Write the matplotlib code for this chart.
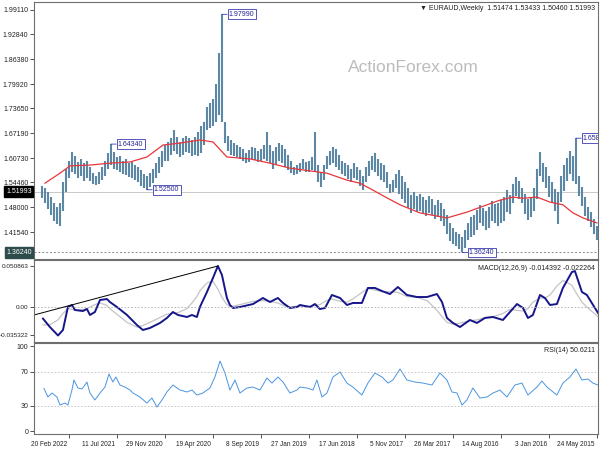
# EURAUD weekly (mirrored layout: newest bar on the left), MA + MACD + RSI panels.
import numpy as np
import matplotlib
matplotlib.use("Agg")
import matplotlib.pyplot as plt
from matplotlib.transforms import ScaledTranslation, blended_transform_factory

plt.rcParams['font.family'] = ['Liberation Sans', 'DejaVu Sans']
plt.rcParams['font.size'] = 5

# x values are weeks after 24 May 2015; bars are two weeks apart
bar_high = [1.432, 1.448, 1.468, 1.480, 1.505, 1.532, 1.560, 1.6587, 1.612, 1.625,
            1.608, 1.590, 1.560, 1.518, 1.528, 1.545, 1.560, 1.585, 1.594, 1.623,
            1.580, 1.530, 1.505, 1.500, 1.515, 1.530, 1.548, 1.558, 1.540, 1.512,
            1.524, 1.505, 1.498, 1.490, 1.488, 1.495, 1.480, 1.470, 1.478, 1.485,
            1.472, 1.460, 1.455, 1.440, 1.420, 1.402, 1.410, 1.415, 1.425, 1.438,
            1.460, 1.475, 1.490, 1.498, 1.485, 1.500, 1.510, 1.498, 1.505, 1.515,
            1.508, 1.520, 1.512, 1.530, 1.545, 1.560, 1.576, 1.565, 1.550, 1.540,
            1.570, 1.590, 1.594, 1.605, 1.620, 1.612, 1.600, 1.585, 1.560, 1.575,
            1.585, 1.594, 1.580, 1.590, 1.594, 1.600, 1.615, 1.630, 1.636, 1.625,
            1.612, 1.590, 1.570, 1.590, 1.675, 1.610, 1.600, 1.598, 1.605, 1.595,
            1.590, 1.585, 1.600, 1.615, 1.630, 1.640, 1.646, 1.635, 1.625, 1.640,
            1.675, 1.640, 1.630, 1.625, 1.632, 1.636, 1.628, 1.620, 1.630, 1.636,
            1.640, 1.645, 1.655, 1.665, 1.700, 1.9799, 1.880, 1.800, 1.760, 1.750,
            1.740, 1.700, 1.690, 1.675, 1.662, 1.655, 1.660, 1.665, 1.658, 1.650,
            1.662, 1.680, 1.660, 1.650, 1.640, 1.625, 1.610, 1.595, 1.580, 1.568,
            1.560, 1.565, 1.575, 1.585, 1.590, 1.598, 1.595, 1.605, 1.600, 1.612,
            1.610, 1.622, 1.6434, 1.620, 1.600, 1.585, 1.570, 1.560, 1.568, 1.585,
            1.600, 1.595, 1.605, 1.598, 1.612, 1.623, 1.600, 1.580, 1.545, 1.490,
            1.480, 1.490, 1.505, 1.520, 1.530, 1.5343]
bar_low = [1.396, 1.410, 1.428, 1.445, 1.458, 1.482, 1.510, 1.540, 1.548, 1.565,
           1.548, 1.522, 1.492, 1.436, 1.470, 1.490, 1.505, 1.530, 1.545, 1.560,
           1.500, 1.470, 1.455, 1.446, 1.462, 1.490, 1.500, 1.510, 1.490, 1.462,
           1.468, 1.445, 1.440, 1.432, 1.440, 1.445, 1.425, 1.421, 1.430, 1.440,
           1.420, 1.408, 1.402, 1.395, 1.375, 1.3624, 1.372, 1.380, 1.385, 1.392,
           1.410, 1.430, 1.445, 1.455, 1.450, 1.460, 1.465, 1.458, 1.462, 1.470,
           1.468, 1.475, 1.465, 1.478, 1.490, 1.500, 1.515, 1.530, 1.520, 1.516,
           1.530, 1.545, 1.550, 1.560, 1.570, 1.575, 1.560, 1.545, 1.524, 1.535,
           1.550, 1.555, 1.545, 1.552, 1.560, 1.565, 1.575, 1.585, 1.595, 1.590,
           1.580, 1.550, 1.532, 1.545, 1.570, 1.575, 1.570, 1.572, 1.578, 1.570,
           1.565, 1.562, 1.568, 1.575, 1.585, 1.595, 1.600, 1.590, 1.580, 1.595,
           1.600, 1.605, 1.600, 1.598, 1.602, 1.605, 1.598, 1.594, 1.600, 1.605,
           1.610, 1.612, 1.615, 1.625, 1.645, 1.700, 1.720, 1.700, 1.690, 1.685,
           1.680, 1.640, 1.620, 1.612, 1.615, 1.612, 1.620, 1.622, 1.615, 1.610,
           1.618, 1.625, 1.615, 1.600, 1.600, 1.585, 1.568, 1.555, 1.542, 1.532,
           1.525, 1.530, 1.535, 1.545, 1.550, 1.555, 1.558, 1.562, 1.565, 1.570,
           1.575, 1.580, 1.590, 1.578, 1.560, 1.550, 1.540, 1.537, 1.540, 1.548,
           1.555, 1.548, 1.560, 1.555, 1.565, 1.570, 1.555, 1.520, 1.470, 1.430,
           1.435, 1.445, 1.460, 1.475, 1.490, 1.5046]
bar_week = np.arange(len(bar_high)) * 2

ma_week = [0, 9.3, 16, 22.7, 31.3, 40, 49.3, 56, 64.7, 73.3, 86.7, 100, 118, 131.3,
           140, 149.3, 158, 166.7, 180, 191.3, 204.7, 218, 231.3, 246.7, 256, 264.7,
           278, 289.3, 300, 311.3, 324.7, 338, 351.3, 358, 368]
ma_val = [1.439, 1.452, 1.465, 1.486, 1.493, 1.506, 1.503, 1.506, 1.498, 1.486,
          1.467, 1.452, 1.465, 1.486, 1.504, 1.524, 1.542, 1.550, 1.568, 1.574,
          1.581, 1.594, 1.605, 1.610, 1.649, 1.654, 1.646, 1.641, 1.610, 1.597,
          1.594, 1.589, 1.587, 1.568, 1.542]

macd_week = [-0.7, 6.7, 10, 14.7, 16.7, 22.7, 26.7, 31.3, 34.7, 38,
             42.7, 46, 49.3, 53.3, 58, 62.7, 69.3, 74.7, 80, 84.7,
             91.3, 96, 100, 103.3, 106.7, 113.3, 120, 126.7, 132.7, 138,
             143.3, 148, 152.7, 156.7, 162.7, 166.7, 171.3, 176.7, 181.3, 184.7,
             188, 191.3, 198, 200, 204.7, 209.3, 212.7, 218, 222.7, 229.3,
             238, 242.7, 244.7, 246.7, 250, 252.7, 256, 260, 264.7, 266.7,
             270, 273.3, 279.3, 282.7, 286.7, 291.3, 298, 302.7, 306.7, 313.3,
             320, 324.7, 326.7, 331.3, 334.7, 338, 340, 342.7, 348, 350,
             352.7, 356, 359.3, 364.7, 369.3]
macd_main = [-0.0074, 0.0149, 0.0186, 0.0446, 0.0434, 0.0236, 0.0037, 0.0025, 0.0112, 0.0149,
             -0.0099, -0.0136, -0.0012, 0.0037, -0.0062, -0.0161, -0.0124, -0.0136, -0.0198, -0.0161,
             -0.0248, -0.0198, -0.0136, 0.0062, 0.0161, 0.0124, 0.0124, 0.0149, 0.0248, 0.0161,
             0.0198, 0.0236, 0.0236, 0.0050, 0.0050, 0.0025, 0.0112, 0.0149, -0.0012, -0.0025,
             0.0037, 0.0, 0.0025, 0.0, -0.0012, 0.0050, 0.0112, 0.0062, 0.0112, 0.0037,
             0.0, -0.0012, 0.0025, 0.0112, 0.0397, 0.050863, 0.0360, 0.0186, 0.0, -0.0124,
             -0.0099, -0.0124, -0.0099, -0.0062, -0.0136, -0.0198, -0.0260, -0.0285, -0.0223, -0.0099,
             0.0, 0.0062, 0.0099, 0.0087, -0.0062, -0.0099, -0.0025, -0.0050, -0.0037, 0.0025,
             0.0, -0.0285, -0.035322, -0.0248, -0.014392]
macd_signal = [-0.0120, 0.0000, 0.0060, 0.0200, 0.0270, 0.0330, 0.0260, 0.0150, 0.0110, 0.0110,
               0.0060, -0.0020, -0.0050, -0.0040, -0.0030, -0.0080, -0.0120, -0.0130, -0.0160, -0.0170,
               -0.0200, -0.0210, -0.0190, -0.0120, -0.0040, 0.0080, 0.0120, 0.0130, 0.0180, 0.0190,
               0.0190, 0.0210, 0.0230, 0.0180, 0.0100, 0.0060, 0.0070, 0.0100, 0.0070, 0.0030,
               0.0020, 0.0010, 0.0010, 0.0010, 0.0000, 0.0020, 0.0050, 0.0070, 0.0080, 0.0070,
               0.0030, 0.0010, 0.0010, 0.0030, 0.0120, 0.0220, 0.0320, 0.0300, 0.0200, 0.0130,
               0.0050, -0.0020, -0.0070, -0.0080, -0.0090, -0.0130, -0.0190, -0.0230, -0.0250, -0.0190,
               -0.0090, -0.0020, 0.0020, 0.0050, 0.0030, 0.0000, -0.0020, -0.0030, -0.0040, -0.0030,
               -0.0020, -0.0080, -0.0160, -0.0220, -0.022264]
trend_week = [375.3, 252.7]
trend_val = [-0.0099, 0.050863]

rsi_week = [-0.7, 2.7, 6, 10, 14, 18, 22.7, 26.7, 33.3, 36.7, 40, 46, 50, 54.7, 60,
            64.7, 69.3, 73.3, 78, 82.7, 86.7, 90, 93.3, 96.7, 100, 104.7, 110, 116,
            121.3, 126.7, 131.3, 136, 139.3, 143.3, 148, 152.7, 156.7, 162.7, 166.7,
            171.3, 176, 180, 183.3, 186.7, 189.3, 193.3, 198, 200, 204.7, 209.3, 212.7,
            216.7, 220, 224.7, 229.3, 233.3, 238, 241.3, 244.7, 248, 251.3, 254.7, 258,
            262.7, 266.7, 270, 273.3, 278, 282.7, 286.7, 290, 293.3, 296.7, 300, 304.7,
            309.3, 311.3, 314.7, 318, 320.7, 322.7, 325.3, 328, 331.3, 334.7, 338, 340,
            343.3, 346, 348.7, 350, 352.7, 354.7, 358, 360, 363.3, 366, 368.7]
rsi_val = [54.6, 56.9, 61.7, 60.5, 73.4, 64, 56.9, 42.8, 52.2, 59.3, 52.2, 42.8, 56.9, 54.6, 40.5,
           48.7, 45.2, 40.5, 39.3, 51.1, 37, 31.1, 45.2, 46.4, 60.5, 68.7, 54.6, 56.9,
           58.1, 60.5, 73.4, 60.5, 56.9, 64, 68.7, 56.9, 42.8, 52.2, 56.9,
           69.9, 64, 45.2, 40.5, 60.5, 48.7, 51.1, 52.2, 48.7, 45.2, 58.1, 64,
           56.9, 62.8, 48.7, 52.2, 51.1, 45.2, 60.5, 48.7, 68.7, 82.8, 64, 51.1,
           45.2, 42.8, 48.7, 46.4, 48.7, 54.6, 46.4, 37, 28.7, 39.3, 33.4, 40.5,
           45.2, 48.7, 52.2, 54.6, 64, 58.1, 67.5, 52.2, 45.2, 37, 45.2, 58.1,
           49.9, 51.1, 60.5, 48.7, 31.1, 33.4, 31.1, 40.5, 45.2, 40.5, 50.6]

price_ticks = [1.99110, 1.92840, 1.86380, 1.79920, 1.73650, 1.67190, 1.60730,
               1.54460, 1.48000, 1.41540]
date_ticks = [0, 32, 64, 96, 128, 160, 192, 224, 256, 288, 320, 352]
date_labels = ["24 May 2015", "3 Jan 2016", "14 Aug 2016", "26 Mar 2017", "5 Nov 2017",
               "17 Jun 2018", "27 Jan 2019", "8 Sep 2019", "19 Apr 2020", "29 Nov 2020",
               "11 Jul 2021", "20 Feb 2022"]
mark_week = [250, 324, 300, 90, 14]
mark_price = [1.97990, 1.64340, 1.52500, 1.36240, 1.65870]

BORDER = '#6e6e6e'
XL = (375.3, -0.7)

fig = plt.figure(figsize=(6, 4.5), dpi=100)
ax1 = fig.add_axes([34/600, 1 - 259/450, 564/600, 257/450])
ax2 = fig.add_axes([34/600, 1 - 342/450, 564/600, 82/450])
ax3 = fig.add_axes([34/600, 1 - 434/450, 564/600, 91/450])

for ax in (ax1, ax2, ax3):
    ax.set_xlim(*XL)
    for s in ax.spines.values():
        s.set_color(BORDER)
        s.set_linewidth(0.8)
    ax.tick_params(axis='y', direction='out', length=3, width=0.6, pad=1,
                   labelsize=5, color='#333333', labelcolor='#222222')
for ax in (ax1, ax2):
    ax.set_xticks([])

# price panel
ax1.vlines(bar_week, bar_low, bar_high, color='#5d88a5', lw=1.5)
ax1.plot(ma_week, ma_val, color='#e8363b', lw=0.9)
ax1.axhline(1.51993, color='#c8c8c8', lw=0.7, zorder=0)
ax1.axhline(1.36240, color='#8a8a8a', lw=0.7, ls=(0, (2, 2)))
ax1.set_ylim(1.3455, 2.0118)
ax1.set_yticks(price_ticks, [f"{v:.5f}" for v in price_ticks])

tr = blended_transform_factory(ax1.transAxes, ax1.transData)
ax1.text(-0.004, 1.51993, "1.51993", transform=tr, ha='right', va='center', color='white',
         fontsize=5, bbox=dict(boxstyle='square,pad=0.25', fc='black', ec='black'))
ax1.text(-0.004, 1.36240, "1.36240", transform=tr, ha='right', va='center', color='white',
         fontsize=5, bbox=dict(boxstyle='square,pad=0.25', fc='#2f4c4c', ec='#2f4c4c'))

for w, p in zip(mark_week, mark_price):
    ax1.annotate(f"{p:.5f}", xy=(w, p), xytext=(5, 0), textcoords='offset points',
                 ha='left', va='center', color='#22229a', fontsize=5,
                 bbox=dict(boxstyle='square,pad=0.2', fc='white', ec='#3a3ab0', lw=0.6),
                 arrowprops=dict(arrowstyle='-', color='#3a3ab0', lw=0.6, shrinkA=0, shrinkB=0),
                 clip_on=True)

fig.text(413/600, 1 - 67/450, "ActionForex.com", ha='center', va='center',
         fontsize=12.5, color='#bcbcbc')
fig.text(595/600, 1 - 8/450, "\u25bc EURAUD,Weekly  1.51474 1.53433 1.50460 1.51993",
         ha='right', va='center', fontsize=5, color='#222222')

# MACD panel
ax2.plot(macd_week, macd_signal, color='#c4c4c4', lw=0.9)
ax2.plot(macd_week, macd_main, color='#16168a', lw=1.4)
ax2.axhline(0, color='#b0b0b0', lw=0.6, ls=(0, (2, 2)))
ax2.plot(trend_week, trend_val, color='black', lw=0.7)
ax2.set_ylim(-0.0434, 0.0583)
ax2.set_yticks([0.050863, 0.0, -0.035322], ["0.050863", "0.00", "-0.035322"])
ax2.tick_params(axis='y', labelsize=4.6)
fig.text(595/600, 1 - 268/450, "MACD(12,26,9) -0.014392 -0.022264",
         ha='right', va='center', fontsize=5, color='#222222')

# RSI panel
ax3.plot(rsi_week, rsi_val, color='#4a95e0', lw=0.7)
for lvl in (70, 30):
    ax3.axhline(lvl, color='#c0c0c0', lw=0.6, ls=(0, (2, 2)))
ax3.set_ylim(-3, 104)
ax3.set_yticks([100, 70, 30, 0], ["100", "70", "30", "0"])
fig.text(595/600, 1 - 350/450, "RSI(14) 50.6211",
         ha='right', va='center', fontsize=5, color='#222222')

ax3.set_xticks(date_ticks, date_labels)
ax3.tick_params(axis='x', direction='out', length=3, width=0.6, pad=2,
                labelsize=4.7, color='#333333', labelcolor='#222222')
shift = ScaledTranslation(-1.5/72, 0, fig.dpi_scale_trans)
for lab in ax3.get_xticklabels():
    lab.set_ha('right')
    lab.set_transform(lab.get_transform() + shift)

fig.savefig("out.png", dpi=100)
